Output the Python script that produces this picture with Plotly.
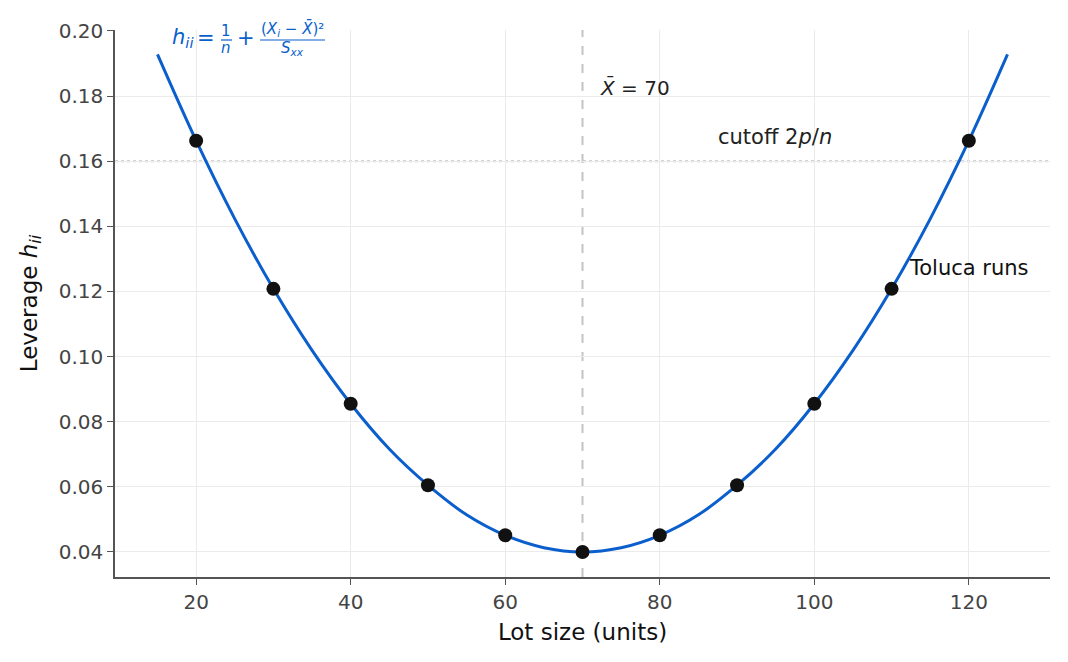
import plotly.graph_objects as go

# Toluca lot sizes and their leverage values
lot_size = [20, 30, 40, 50, 60, 70, 80, 90, 100, 110, 120]
leverage = [0.1663, 0.1208, 0.0855, 0.0605, 0.0451, 0.0400, 0.0451, 0.0605, 0.0855, 0.1208, 0.1663]

# leverage curve read at every 5 units
curve_x = [15, 20, 25, 30, 35, 40, 45, 50, 55, 60, 65, 70, 75, 80, 85, 90, 95, 100, 105, 110, 115, 120, 125]
curve_y = [0.1928, 0.1663, 0.1423, 0.1208, 0.1019, 0.0855, 0.0716, 0.0605, 0.0514, 0.0451, 0.0413, 0.0400,
           0.0413, 0.0451, 0.0514, 0.0605, 0.0716, 0.0855, 0.1019, 0.1208, 0.1423, 0.1663, 0.1928]

x_bar = 70
cutoff = 0.16

x_ticks = [20, 40, 60, 80, 100, 120]
y_ticks = [0.04, 0.06, 0.08, 0.10, 0.12, 0.14, 0.16, 0.18, 0.20]

FONT = "DejaVu Sans"
BLUE = "#0b5fcc"

W, H = 1068, 662
ML, MR, MT, MB = 115, 18, 30, 85
PW, PH = W - ML - MR, H - MT - MB


def px(x):
    return (x - ML) / PW


def py(y):
    return (H - MB - y) / PH


fig = go.Figure()
fig.add_trace(go.Scatter(x=curve_x, y=curve_y, mode="lines", line=dict(color=BLUE, width=3, shape="spline"),
                         showlegend=False, hoverinfo="skip"))
fig.add_trace(go.Scatter(x=lot_size, y=leverage, mode="markers",
                         marker=dict(color="#111111", size=14), showlegend=False))

fig.add_shape(type="line", xref="x", yref="paper", x0=x_bar, x1=x_bar, y0=0, y1=1,
              line=dict(color="#c4c4c4", width=2, dash="dash"), layer="below")
fig.add_shape(type="line", xref="paper", yref="y", x0=0, x1=1, y0=cutoff, y1=cutoff,
              line=dict(color="#c4c4c4", width=2, dash="dot"), layer="below")

# formula built from pieces (stacked fractions)
def ftext(text, cx, cy, size, anchor="center"):
    fig.add_annotation(xref="paper", yref="paper", x=px(cx), y=py(cy), text=text, showarrow=False,
                       xanchor=anchor, yanchor="middle", font=dict(family=FONT, size=size, color=BLUE))


ftext("<i>h<sub>ii</sub></i>", 170, 38, 21, "left")
ftext("=", 206, 38, 21)
ftext("1", 226, 31, 15)
ftext("<i>n</i>", 226, 48, 15)
ftext("+", 246, 38, 21)
ftext("(<i>X<sub>i</sub></i> − <i>X̄</i>)²", 292, 29, 15)
ftext("<i>S<sub>xx</sub></i>", 292, 49, 15)
for x0, x1 in [(221, 232), (260, 325)]:
    fig.add_shape(type="line", xref="paper", yref="paper", x0=px(x0), x1=px(x1), y0=py(40), y1=py(40),
                  line=dict(color=BLUE, width=1.2))

fig.add_annotation(x=72, y=0.1825, text="<i>X̄</i> = 70", showarrow=False, xanchor="left", yanchor="middle",
                   font=dict(family=FONT, size=20, color="#222222"))
fig.add_annotation(x=87.3, y=0.1675, text="cutoff 2<i>p</i>/<i>n</i>", showarrow=False, xanchor="left",
                   yanchor="middle", font=dict(family=FONT, size=21, color="#222222"))
fig.add_annotation(x=112, y=0.1272, text="Toluca runs", showarrow=False, xanchor="left", yanchor="middle",
                   font=dict(family=FONT, size=21, color="#111111"))

fig.update_layout(
    width=W, height=H,
    margin=dict(l=ML, r=MR, t=MT, b=MB, autoexpand=False),
    plot_bgcolor="white", paper_bgcolor="white",
    font=dict(family=FONT, size=20, color="#444444"),
    xaxis=dict(range=[9.5, 130.5], tickvals=x_ticks, showgrid=True, gridcolor="#ebebeb", gridwidth=1,
               showline=True, linecolor="#555555", linewidth=1.5, ticks="outside", ticklen=6,
               tickcolor="#555555", zeroline=False, automargin=False,
               title=dict(text="Lot size (units)", font=dict(size=23, color="#111111"), standoff=11)),
    yaxis=dict(range=[0.0323, 0.2003], tickvals=y_ticks, tickformat=".2f", showgrid=True, gridcolor="#ebebeb",
               gridwidth=1, showline=True, linecolor="#555555", linewidth=1.5, ticks="outside", ticklen=6,
               tickcolor="#555555", zeroline=False, automargin=False,
               title=dict(text="Leverage <i>h<sub>ii</sub></i>", font=dict(size=23, color="#111111"), standoff=15)),
)

fig.write_html("out.html")
